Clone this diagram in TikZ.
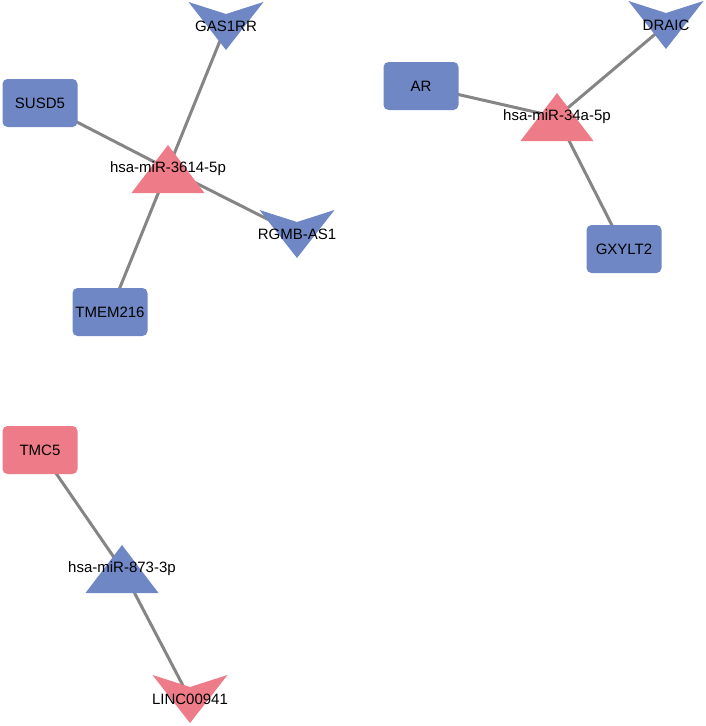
\documentclass[tikz,border=0pt]{standalone}
\usepackage{fontspec}
\setmainfont{Liberation Sans}
\definecolor{nodeblue}{HTML}{7087C5}
\definecolor{nodepink}{HTML}{EE7B88}
\definecolor{edgegray}{HTML}{858585}
\pgfdeclarelayer{edgelayer}
\pgfdeclarelayer{shapelayer}
\pgfsetlayers{edgelayer,shapelayer,main}
\newcommand{\trishape}[2]{\fill[#2] (#1.center) ++(0,-24) -- ++(36.5,48) -- ++(-73,0) -- cycle;}
\newcommand{\vshape}[2]{\fill[#2] (#1.center) ++(-37.5,-24) -- ++(37.5,12) -- ++(37.5,-12) -- ++(-37.5,48) -- cycle;}

\begin{document}
\begin{tikzpicture}[x=1pt,y=-1pt,
  every node/.style={font=\fontsize{15}{18}\selectfont, inner sep=0pt},
  gene/.style={rounded corners=5pt, minimum width=75pt, minimum height=48pt, fill=#1},
  link/.style={draw=edgegray, line width=3pt}]
\useasboundingbox (0,0) rectangle (706,726);

\node[gene=nodeblue] (susd5) at (40,103) {SUSD5};
\node[gene=nodeblue] (tmem216) at (110,312) {TMEM216};
\node (gas1rr) at (226,26) {GAS1RR};
\node (rgmbas1) at (297,234) {RGMB-AS1};
\node (mir3614) at (168,169) {hsa-miR-3614-5p};

\node[gene=nodeblue] (ar) at (421,86) {AR};
\node (draic) at (666,25) {DRAIC};
\node (mir34a) at (557,117) {hsa-miR-34a-5p};
\node[gene=nodeblue] (gxylt2) at (624,249) {GXYLT2};

\node[gene=nodepink] (tmc5) at (40,450) {TMC5};
\node (mir873) at (122,569) {hsa-miR-873-3p};
\node (linc00941) at (190,699) {LINC00941};

\begin{pgfonlayer}{shapelayer}
\trishape{mir3614}{nodepink}
\trishape{mir34a}{nodepink}
\trishape{mir873}{nodeblue}
\vshape{gas1rr}{nodeblue}
\vshape{rgmbas1}{nodeblue}
\vshape{draic}{nodeblue}
\vshape{linc00941}{nodepink}
\end{pgfonlayer}

\begin{pgfonlayer}{edgelayer}
\draw[link] (susd5.center) -- (mir3614.center);
\draw[link] (gas1rr.center) -- (mir3614.center);
\draw[link] (rgmbas1.center) -- (mir3614.center);
\draw[link] (tmem216.center) -- (mir3614.center);
\draw[link] (ar.center) -- (mir34a.center);
\draw[link] (draic.center) -- (mir34a.center);
\draw[link] (gxylt2.center) -- (mir34a.center);
\draw[link] (tmc5.center) -- (mir873.center);
\draw[link] (linc00941.center) -- (mir873.center);
\end{pgfonlayer}
\end{tikzpicture}
\end{document}
